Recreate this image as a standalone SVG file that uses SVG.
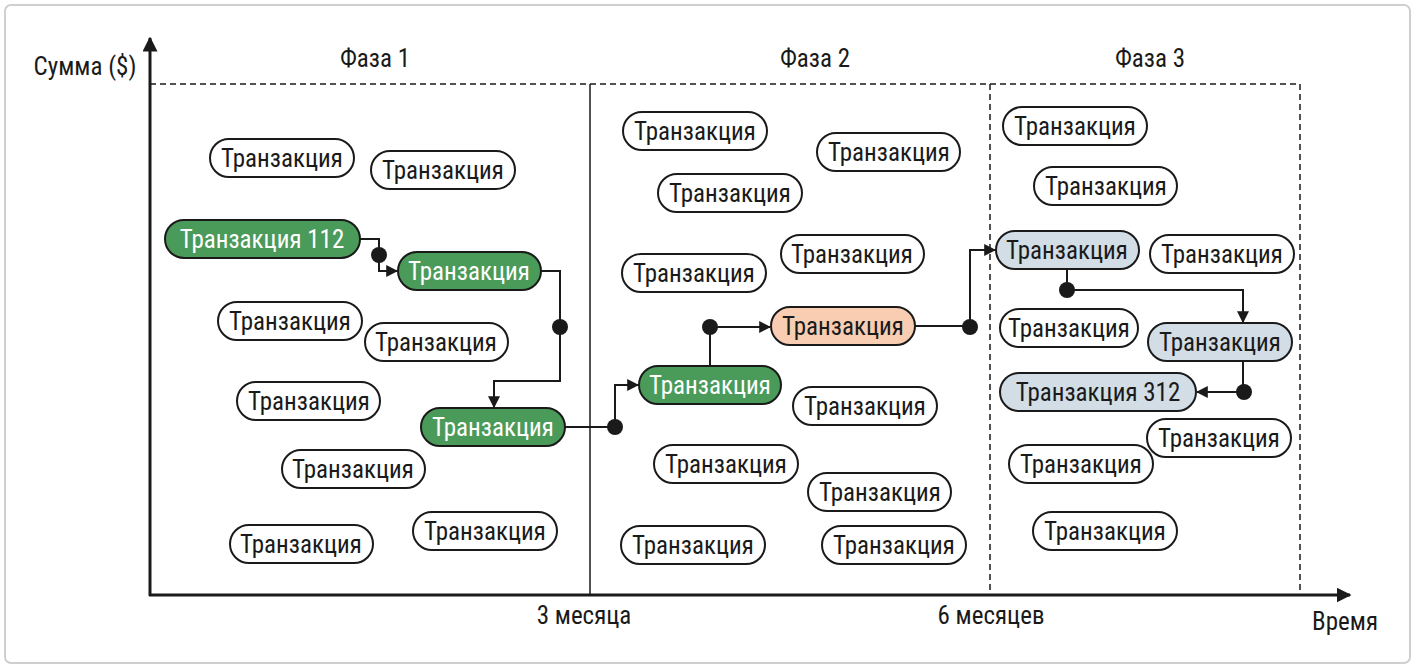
<svg xmlns="http://www.w3.org/2000/svg" width="1416" height="670" viewBox="0 0 1416 670">
<style>
text{font-family:"Liberation Sans Narrow","Roboto Condensed","Liberation Sans",sans-serif;font-size:25px;fill:#1a1a1a}
.n rect{fill:#fff;stroke:#1a1a1a;stroke-width:2}
.n text{text-anchor:middle;dominant-baseline:central}
.g rect{fill:#4a9a5a}.g text{fill:#fff}
.o rect{fill:#f8cdb2}.b rect{fill:#d2dde6}
.c path{fill:none;stroke:#1a1a1a;stroke-width:2}
.c circle{fill:#1a1a1a}
.ax{stroke:#1a1a1a;stroke-width:3;fill:none}
.ds{stroke:#1a1a1a;stroke-width:1.5;stroke-dasharray:6,4;fill:none}
</style>
<defs>
<marker id="a" viewBox="0 0 10 10" refX="9" refY="5" markerWidth="6" markerHeight="6" orient="auto"><path d="M0,0L10,5L0,10z" fill="#1a1a1a"/></marker>
<marker id="A" viewBox="0 0 10 10" refX="9" refY="5" markerWidth="5" markerHeight="5" orient="auto"><path d="M0,0L10,5L0,10z" fill="#1a1a1a"/></marker>
</defs>
<rect x="5" y="5" width="1405" height="658" rx="6" fill="#fff" stroke="#cfcfcf" stroke-width="2"/>
<g id="axes">
<path class="ax" d="M150,596V38" marker-end="url(#A)"/>
<path class="ax" d="M149,595H1350" marker-end="url(#A)"/>
<path class="ds" d="M150,84H1300V595M990,84V595"/>
<path d="M590,84V595" stroke="#1a1a1a" stroke-width="1.5"/>
<text x="85" y="75" text-anchor="middle">Сумма ($)</text>
<text x="375" y="67" text-anchor="middle">Фаза 1</text>
<text x="815" y="67" text-anchor="middle">Фаза 2</text>
<text x="1150" y="67" text-anchor="middle">Фаза 3</text>
<text x="584" y="624" text-anchor="middle">3 месяца</text>
<text x="991" y="624" text-anchor="middle">6 месяцев</text>
<text x="1345" y="630" text-anchor="middle">Время</text>
</g>
<g class="c" id="connectors">
<path d="M360,239H379V271H397" marker-end="url(#a)"/><circle cx="379" cy="255" r="8"/>
<path d="M541,271H560V381H494V407" marker-end="url(#a)"/><circle cx="560" cy="327" r="8"/>
<path d="M565,427H615V385H638" marker-end="url(#a)"/><circle cx="615" cy="427" r="8"/>
<path d="M710,366V327H770" marker-end="url(#a)"/><circle cx="710" cy="327" r="8"/>
<path d="M915,326H970V250H995" marker-end="url(#a)"/><circle cx="970" cy="327" r="8"/>
<path d="M1067,269V290H1243V322" marker-end="url(#a)"/><circle cx="1067" cy="290" r="8"/>
<path d="M1243,361V392H1197" marker-end="url(#a)"/><circle cx="1244" cy="392" r="8"/>
</g>
<g id="n1" class="n"><rect x="210" y="139" width="144" height="38" rx="19"/><text x="282" y="158">Транзакция</text></g>
<g id="n2" class="n"><rect x="371" y="151" width="144" height="38" rx="19"/><text x="443" y="170">Транзакция</text></g>
<g id="n3" class="n g"><rect x="165" y="220" width="195" height="38" rx="19"/><text x="262" y="239">Транзакция 112</text></g>
<g id="n4" class="n g"><rect x="398" y="252" width="143" height="38" rx="19"/><text x="469" y="271">Транзакция</text></g>
<g id="n5" class="n"><rect x="218" y="302" width="144" height="38" rx="19"/><text x="290" y="321">Транзакция</text></g>
<g id="n6" class="n"><rect x="365" y="323" width="143" height="38" rx="19"/><text x="436" y="342">Транзакция</text></g>
<g id="n7" class="n"><rect x="237" y="382" width="143" height="38" rx="19"/><text x="309" y="401">Транзакция</text></g>
<g id="n8" class="n g"><rect x="421" y="408" width="144" height="38" rx="19"/><text x="493" y="427">Транзакция</text></g>
<g id="n9" class="n"><rect x="282" y="450" width="143" height="38" rx="19"/><text x="353" y="469">Транзакция</text></g>
<g id="n10" class="n"><rect x="413" y="512" width="144" height="38" rx="19"/><text x="485" y="531">Транзакция</text></g>
<g id="n11" class="n"><rect x="230" y="525" width="143" height="38" rx="19"/><text x="301" y="544">Транзакция</text></g>
<g id="n12" class="n"><rect x="623" y="112" width="144" height="38" rx="19"/><text x="695" y="131">Транзакция</text></g>
<g id="n13" class="n"><rect x="817" y="133" width="143" height="38" rx="19"/><text x="889" y="152">Транзакция</text></g>
<g id="n14" class="n"><rect x="658" y="174" width="144" height="38" rx="19"/><text x="730" y="193">Транзакция</text></g>
<g id="n15" class="n"><rect x="781" y="235" width="143" height="38" rx="19"/><text x="852" y="254">Транзакция</text></g>
<g id="n16" class="n"><rect x="622" y="254" width="144" height="38" rx="19"/><text x="694" y="273">Транзакция</text></g>
<g id="n17" class="n o"><rect x="771" y="307" width="144" height="38" rx="19"/><text x="843" y="326">Транзакция</text></g>
<g id="n18" class="n g"><rect x="639" y="366" width="142" height="38" rx="19"/><text x="710" y="385">Транзакция</text></g>
<g id="n19" class="n"><rect x="793" y="387" width="144" height="38" rx="19"/><text x="865" y="406">Транзакция</text></g>
<g id="n20" class="n"><rect x="654" y="445" width="144" height="38" rx="19"/><text x="726" y="464">Транзакция</text></g>
<g id="n21" class="n"><rect x="808" y="473" width="143" height="38" rx="19"/><text x="880" y="492">Транзакция</text></g>
<g id="n22" class="n"><rect x="621" y="526" width="144" height="38" rx="19"/><text x="693" y="545">Транзакция</text></g>
<g id="n23" class="n"><rect x="822" y="526" width="144" height="38" rx="19"/><text x="894" y="545">Транзакция</text></g>
<g id="n24" class="n"><rect x="1003" y="107" width="144" height="38" rx="19"/><text x="1075" y="126">Транзакция</text></g>
<g id="n25" class="n"><rect x="1034" y="167" width="143" height="38" rx="19"/><text x="1106" y="186">Транзакция</text></g>
<g id="n26" class="n b"><rect x="996" y="231" width="143" height="38" rx="19"/><text x="1067" y="250">Транзакция</text></g>
<g id="n27" class="n"><rect x="1150" y="235" width="144" height="38" rx="19"/><text x="1222" y="254">Транзакция</text></g>
<g id="n28" class="n"><rect x="1000" y="309" width="138" height="38" rx="19"/><text x="1069" y="328">Транзакция</text></g>
<g id="n29" class="n b"><rect x="1148" y="323" width="144" height="38" rx="19"/><text x="1220" y="342">Транзакция</text></g>
<g id="n30" class="n b"><rect x="1000" y="373" width="196" height="38" rx="19"/><text x="1098" y="392">Транзакция 312</text></g>
<g id="n31" class="n"><rect x="1147" y="419" width="144" height="38" rx="19"/><text x="1219" y="438">Транзакция</text></g>
<g id="n32" class="n"><rect x="1009" y="445" width="144" height="38" rx="19"/><text x="1081" y="464">Транзакция</text></g>
<g id="n33" class="n"><rect x="1033" y="512" width="144" height="38" rx="19"/><text x="1105" y="531">Транзакция</text></g>
</svg>
